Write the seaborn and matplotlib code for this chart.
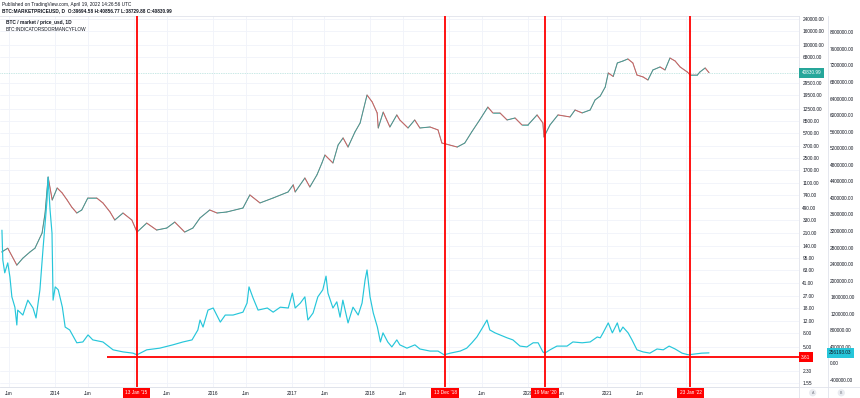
import numpy as np
import pandas as pd
import matplotlib
matplotlib.use("Agg")
import matplotlib.pyplot as plt
import matplotlib.transforms as mtrans
from matplotlib.lines import Line2D
from matplotlib.ticker import NullLocator, NullFormatter, FixedLocator
import seaborn as sns

# ---------------- data ----------------
price_dates = [
    "2013-04-28", "2013-05-26", "2013-07-07", "2013-08-04", "2013-09-06", "2013-09-29",
    "2013-11-01", "2013-11-15", "2013-11-29", "2013-12-18", "2014-01-10", "2014-02-02",
    "2014-02-25", "2014-03-18", "2014-04-11", "2014-05-04", "2014-06-01", "2014-07-12",
    "2014-08-10", "2014-09-12", "2014-10-04", "2014-11-11", "2014-12-22", "2015-01-15",
    "2015-03-01", "2015-04-16", "2015-06-02", "2015-07-09", "2015-08-24", "2015-10-01",
    "2015-11-03", "2015-12-18", "2016-01-21", "2016-03-06", "2016-05-20", "2016-06-21",
    "2016-08-07", "2016-10-07", "2016-12-15", "2017-01-08", "2017-01-17", "2017-03-03",
    "2017-03-26", "2017-04-28", "2017-05-21", "2017-06-04", "2017-07-11", "2017-08-04",
    "2017-08-27", "2017-09-19", "2017-10-21", "2017-11-14", "2017-12-16", "2018-01-09",
    "2018-02-01", "2018-02-06", "2018-03-01", "2018-04-01", "2018-05-03", "2018-05-17",
    "2018-06-24", "2018-07-25", "2018-08-18", "2018-10-04", "2018-11-10", "2018-11-28",
    "2018-12-21", "2019-02-07", "2019-03-14", "2019-04-15", "2019-05-22", "2019-06-29",
    "2019-07-22", "2019-08-24", "2019-09-26", "2019-11-02", "2019-12-04", "2020-01-01",
    "2020-02-12", "2020-03-10", "2020-03-15", "2020-04-12", "2020-05-19", "2020-07-14",
    "2020-08-06", "2020-09-08", "2020-10-15", "2020-11-07", "2020-12-01", "2020-12-24",
    "2021-01-07", "2021-01-30", "2021-02-18", "2021-03-16", "2021-04-08", "2021-05-01",
    "2021-05-20", "2021-06-17", "2021-07-10", "2021-08-02", "2021-09-04", "2021-09-27",
    "2021-10-20", "2021-11-13", "2021-12-06", "2022-01-08", "2022-01-22", "2022-02-24",
    "2022-03-08", "2022-04-01", "2022-04-19",
]
price_usd = [
    114, 129, 74, 93, 114, 129,
    212, 409, 1330, 627, 930, 790,
    627, 499, 409, 452, 670, 670,
    569, 423, 325, 409, 325, 219,
    294, 234, 250, 304, 219, 250,
    348, 452, 409, 423, 482, 740,
    569, 670, 815, 1030, 815, 1290,
    960, 1430, 2110, 2740, 2110, 3810,
    4800, 3560, 5830, 7840, 19600, 15600,
    10900, 6650, 11200, 6870, 10200, 8650,
    6650, 8650, 6650, 6870, 6240, 4060,
    3900, 3560, 4060, 5830, 8650, 13200,
    10900, 10900, 8650, 9230, 7350, 7350,
    10200, 7840, 4950, 7350, 10200, 9550,
    12000, 10900, 12000, 16700, 19000, 25500,
    40400, 36000, 56100, 59800, 64000, 56100,
    37800, 35500, 32100, 44600, 49200, 44600,
    66000, 59800, 49200, 41800, 37800, 37800,
    41800, 47600, 40830.99,
]

dorm_dates = [
    "2013-04-29", "2013-05-03", "2013-05-12", "2013-05-26", "2013-06-05", "2013-06-14",
    "2013-06-28", "2013-07-07", "2013-07-11", "2013-08-04", "2013-08-27", "2013-09-20",
    "2013-10-04", "2013-10-22", "2013-11-06", "2013-11-24", "2013-11-29", "2013-12-08",
    "2013-12-17", "2013-12-22", "2014-01-01", "2014-01-15", "2014-02-03", "2014-02-16",
    "2014-03-09", "2014-04-11", "2014-05-09", "2014-06-02", "2014-06-24", "2014-08-10",
    "2014-09-26", "2014-11-11", "2014-12-27", "2015-01-15", "2015-03-01", "2015-04-30",
    "2015-06-30", "2015-08-16", "2015-09-27", "2015-10-24", "2015-11-03", "2015-11-17",
    "2015-12-10", "2016-01-03", "2016-02-05", "2016-02-28", "2016-04-04", "2016-05-20",
    "2016-06-08", "2016-06-17", "2016-07-06", "2016-07-29", "2016-09-10", "2016-10-07",
    "2016-11-09", "2016-12-16", "2017-01-04", "2017-01-17", "2017-02-10", "2017-03-03",
    "2017-03-17", "2017-04-10", "2017-05-02", "2017-05-25", "2017-06-09", "2017-06-18",
    "2017-07-11", "2017-07-29", "2017-08-13", "2017-08-26", "2017-09-19", "2017-10-12",
    "2017-11-05", "2017-11-23", "2017-12-07", "2017-12-16", "2017-12-30", "2018-01-14",
    "2018-02-02", "2018-02-16", "2018-02-28", "2018-03-22", "2018-04-10", "2018-05-03",
    "2018-05-17", "2018-06-19", "2018-07-26", "2018-08-18", "2018-10-04", "2018-11-10",
    "2018-12-08", "2019-01-06", "2019-02-21", "2019-03-23", "2019-04-16", "2019-05-09",
    "2019-05-23", "2019-06-06", "2019-06-25", "2019-07-08", "2019-08-01", "2019-08-24",
    "2019-09-26", "2019-10-23", "2019-11-25", "2019-12-27", "2020-01-25", "2020-02-17",
    "2020-03-10", "2020-03-19", "2020-04-12", "2020-05-14", "2020-06-30", "2020-07-27",
    "2020-09-08", "2020-10-15", "2020-11-17", "2020-12-01", "2020-12-14", "2021-01-07",
    "2021-01-26", "2021-02-18", "2021-03-02", "2021-03-16", "2021-04-09", "2021-04-27",
    "2021-05-20", "2021-06-17", "2021-07-19", "2021-08-21", "2021-09-19", "2021-10-16",
    "2021-11-13", "2021-12-15", "2022-01-13", "2022-02-15", "2022-03-17", "2022-04-19",
]
dormancy_flow = [
    3220000, 2500000, 2190000, 2430000, 2090000, 1610000,
    1360000, 930000, 1290000, 1170000, 1530000, 1340000,
    1100000, 1780000, 2810000, 3950000, 4500000, 3710000,
    3150000, 1530000, 1850000, 1780000, 1360000, 880000,
    810000, 500000, 520000, 690000, 570000, 520000,
    330000, 280000, 250000, 210000, 330000, 370000,
    450000, 520000, 570000, 810000, 1050000, 880000,
    1290000, 1340000, 1000000, 1170000, 1170000, 1240000,
    1460000, 1850000, 1580000, 1290000, 1340000, 1240000,
    1360000, 1340000, 1700000, 1340000, 1460000, 1610000,
    1050000, 1220000, 1610000, 1780000, 2110000, 1700000,
    1340000, 1490000, 1120000, 1530000, 980000, 1360000,
    1170000, 1460000, 2020000, 2260000, 1610000, 1220000,
    880000, 520000, 740000, 520000, 400000, 570000,
    450000, 370000, 450000, 350000, 300000, 300000,
    210000, 250000, 300000, 370000, 500000, 640000,
    760000, 880000, 1050000, 810000, 740000, 690000,
    620000, 570000, 420000, 400000, 500000, 500000,
    280000, 250000, 330000, 420000, 420000, 520000,
    500000, 520000, 640000, 620000, 740000, 980000,
    740000, 980000, 760000, 880000, 740000, 570000,
    330000, 280000, 250000, 350000, 330000, 420000,
    350000, 250000, 210000, 230000, 250000, 256193.03,
]

event_dates = ["2015-01-13", "2018-12-13", "2020-03-19", "2022-01-23"]
event_labels = ["13 Jan '15", "13 Dec '18", "19 Mar '20", "23 Jan '22"]
flow_floor_value = 3.61
flow_floor_start = "2014-08-29"
last_price = 40830.99
last_flow = 256193.03

price_ticks = [240000, 160000, 100000, 68000, 29500, 19500, 12500, 8500, 5700,
               3700, 2500, 1700, 1100, 740, 490, 330, 210, 140, 95, 63, 41, 27, 18,
               12, 8, 5, 2.3, 1.55]
flow_ticks = list(range(-400000, 8000001, 400000))

x_tick_dates = ["2013-06-01", "2014-01-01", "2014-06-01", "2015-01-01", "2015-06-01",
                "2016-01-01", "2016-06-01", "2017-01-01", "2017-06-01", "2018-01-01",
                "2018-06-01", "2019-01-01", "2019-06-01", "2020-01-01", "2020-06-01",
                "2021-01-01", "2021-06-01", "2022-01-01"]
# labels of 2015, 2019 and 2022 are hidden under the red date boxes in the original
x_tick_labels = ["Jun", "2014", "Jun", "", "Jun", "2016", "Jun", "2017", "Jun", "2018",
                 "Jun", "", "Jun", "2020", "Jun", "2021", "Jun", ""]

# ---------------- style ----------------
sns.set_theme(style="white")
plt.rcParams["font.family"] = ["Liberation Sans", "DejaVu Sans"]

UP, DOWN = "#26a69a", "#ef5350"
CYAN = "#26c6da"
RED = "#ff0000"
TXT = "#131722"
GRID = "#f0f3fa"
BORDER = "#e0e3eb"
FS = 3.4
PX = 0.72  # points per pixel at 100 dpi

W, H = 860, 398
fig = plt.figure(figsize=(W / 100, H / 100), dpi=100)
PL, PR, PT, PB = 0, 799, 16, 387
ax = fig.add_axes([PL / W, 1 - PB / H, (PR - PL) / W, (PB - PT) / H])
ax2 = ax.twinx()

df_p = pd.DataFrame({"date": pd.to_datetime(price_dates), "price": price_usd})
df_d = pd.DataFrame({"date": pd.to_datetime(dorm_dates), "flow": dormancy_flow})

# price (thin candle-like line, coloured by direction)
sns.lineplot(data=df_p, x="date", y="price", ax=ax, color="#6f6466", lw=0.75,
             alpha=0.8, legend=False, zorder=3)
for i in range(1, len(df_p)):
    c = UP if df_p["price"].iloc[i] >= df_p["price"].iloc[i - 1] else DOWN
    ax.plot(df_p["date"].iloc[i - 1:i + 1], df_p["price"].iloc[i - 1:i + 1],
            color=c, lw=0.55, alpha=0.75, zorder=4, solid_capstyle="round")

ax.set_yscale("log")
ax.set_ylim(1.36, 261800)
ax.set_xlim(pd.Timestamp("2013-04-20"), pd.Timestamp("2023-06-10"))

# dormancy flow
sns.lineplot(data=df_d, x="date", y="flow", ax=ax2, color=CYAN, lw=0.85, legend=False, zorder=3)
ax2.set_ylim(-568000, 8394000)

# current price dotted line
ax.axhline(last_price, color=UP, ls=(0, (1, 1.5)), lw=0.5, alpha=0.5, zorder=2)

# red horizontal floor line
ax.hlines(flow_floor_value, pd.Timestamp(flow_floor_start), pd.Timestamp("2023-06-10"),
          color=RED, lw=1.3, zorder=6)

# red vertical event lines
for d in event_dates:
    ax2.axvline(pd.Timestamp(d), color=RED, lw=1.3, zorder=6)

# axes formatting
ax.yaxis.tick_right()
ax.yaxis.set_major_locator(FixedLocator(price_ticks))
ax.set_yticklabels([f"{v:.2f}" for v in price_ticks])
ax.yaxis.set_minor_locator(NullLocator())
ax.yaxis.set_minor_formatter(NullFormatter())
ax.set_xticks(pd.to_datetime(x_tick_dates))
ax.set_xticklabels(x_tick_labels)
ax.tick_params(axis="y", which="both", length=0, pad=3.4 * PX, labelsize=FS, colors=TXT)
ax.tick_params(axis="x", which="both", length=0, pad=3.6 * PX, labelsize=FS, colors=TXT)
ax.set_xlabel("")
ax.set_ylabel("")
ax.grid(True, which="major", color=GRID, lw=0.6)
ax.set_axisbelow(True)

ax2.set_yticks(flow_ticks)
ax2.set_yticklabels([f"{v:.2f}" for v in flow_ticks])
ax2.tick_params(axis="y", length=0, pad=2.6 * PX, labelsize=FS, colors=TXT)
ax2.set_ylabel("")
ax2.grid(False)
ax2.spines["right"].set_position(("outward", 28.5 * PX))

ax.spines["left"].set_visible(False)
for s in ["top", "right", "bottom"]:
    ax.spines[s].set_color(BORDER)
    ax.spines[s].set_linewidth(0.6)
for s in ["left", "top", "bottom"]:
    ax2.spines[s].set_visible(False)
ax2.spines["right"].set_color(BORDER)
ax2.spines["right"].set_linewidth(0.6)

# bottom border across the whole width and separators in the time-axis row
fig.add_artist(Line2D([0, 1], [1 - PB / H] * 2, color=BORDER, lw=0.6))
for xx in (799.3, 827.7):
    fig.add_artist(Line2D([xx / W] * 2, [0, 1 - PB / H], color=BORDER, lw=0.6))

# event date boxes on the time axis
trx = mtrans.blended_transform_factory(ax2.transData, ax2.transAxes)
for d, lab in zip(event_dates, event_labels):
    ax2.text(pd.Timestamp(d), -5.6 / (PB - PT), lab, transform=trx, ha="center", va="center",
             fontsize=FS, color="white", clip_on=False, zorder=10,
             bbox=dict(boxstyle="square,pad=0.55", fc=RED, ec="none"))

# price-scale labels
tr_a = mtrans.blended_transform_factory(ax.transAxes, ax.transData)
ax.text(801.8 / PR, last_price, f"{last_price:.2f}", transform=tr_a, ha="left", va="center",
        fontsize=FS, color="white", clip_on=False, zorder=10,
        bbox=dict(boxstyle="square,pad=0.5", fc=UP, ec="none"))
ax.text(801.0 / PR, flow_floor_value, f"{flow_floor_value:.2f}", transform=tr_a, ha="left",
        va="center", fontsize=FS, color="white", clip_on=False, zorder=10,
        bbox=dict(boxstyle="square,pad=0.5", fc=RED, ec="none"))
tr_b = mtrans.blended_transform_factory(ax2.transAxes, ax2.transData)
ax2.text(829.2 / PR, last_flow, f"{last_flow:.2f}", transform=tr_b, ha="left", va="center",
         fontsize=FS, color=TXT, clip_on=False, zorder=10,
         bbox=dict(boxstyle="square,pad=0.5", fc=CYAN, ec="none"))

# header texts
fig.text(1.5 / W, 1 - 4.6 / H, "Published on TradingView.com, April 19, 2022 14:26:56 UTC",
         fontsize=FS, color=TXT, va="center", ha="left")
fig.text(1.5 / W, 1 - 10.8 / H,
         "BTC:MARKETPRICEUSD, D  O:39694.58 H:40856.77 L:38729.88 C:40830.99",
         fontsize=FS, color=TXT, va="center", ha="left", fontweight="bold")
fig.text(6 / W, 1 - 22.7 / H, "BTC / market / price_usd, 1D", fontsize=FS, color=TXT,
         va="center", ha="left", fontweight="bold")
fig.text(6 / W, 1 - 29.3 / H, "BTC:INDICATORSDORMANCYFLOW", fontsize=FS, color=TXT,
         va="center", ha="left")

# scale badges
for xx, lab in ((812.7, "A"), (841.3, "B")):
    fig.text(xx / W, 1 - 392.8 / H, lab, fontsize=2.6, color="#787b86", ha="center",
             va="center", bbox=dict(boxstyle="circle,pad=0.45", fc="#e9ebf0", ec="none"))

fig.savefig("out.png", dpi=100)
